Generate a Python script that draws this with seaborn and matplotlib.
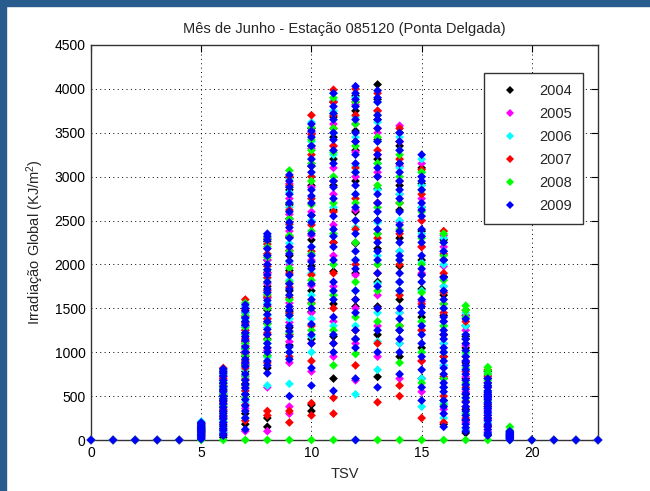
import matplotlib
matplotlib.use("Agg")
import matplotlib.pyplot as plt
import seaborn as sns
import pandas as pd
from matplotlib.patches import Rectangle

# ---- data: per year, list of 24 hourly lists (TSV hour 0..23) ----
years = ["2004", "2005", "2006", "2007", "2008", "2009"]
colors = ["#000000", "#ff00ff", "#00ffff", "#ff0000", "#00ff00", "#0000ff"]

y2004 = [[0], [0], [0], [0], [0],
         [40, 75, 110, 150, 90, 60, 130, 175],
         [30, 180, 320, 450, 560, 640, 720, 380, 250, 510, 600, 90],
         [180, 300, 520, 780, 950, 1120, 1300, 1450, 640, 860, 1040, 1220],
         [150, 250, 820, 1150, 1480, 1750, 2050, 2260, 960, 1330, 1620, 1910],
         [1280, 1700, 2100, 2520, 2850, 1930, 1460, 2310, 2680, 2990, 1080],
         [330, 400, 1150, 1700, 2280, 2900, 3350, 1460, 1980, 2560, 3120, 3550],
         [700, 1550, 2250, 2900, 3450, 3850, 1180, 1920, 2620, 3200, 3680],
         [1150, 1900, 2600, 3300, 3750, 1520, 2240, 2950, 3520, 3920],
         [720, 1200, 1800, 2500, 3200, 3650, 4050, 1520, 2180, 2860, 3420, 3880],
         [950, 1600, 2300, 2900, 3350, 1250, 1980, 2620, 3150, 3500],
         [700, 1400, 2050, 2650, 1050, 1720, 2380, 2920, 3100],
         [180, 700, 1200, 1650, 2050, 450, 950, 1420, 1860, 2280],
         [80, 350, 700, 1050, 1300, 220, 520, 880, 1180, 1420],
         [60, 250, 500, 700, 160, 380, 600, 780],
         [20, 60, 100],
         [0], [0], [0], [0]]
y2005 = [[0], [0], [0], [0], [0],
         [55, 100, 140, 170, 80, 25, 120, 190],
         [120, 260, 410, 530, 690, 770, 340, 470, 610, 720, 200],
         [100, 360, 600, 870, 1010, 1250, 1400, 720, 1130, 1330, 1500],
         [100, 600, 1020, 1380, 1620, 1900, 2180, 1200, 1500, 1780, 2050, 2300],
         [300, 380, 880, 1120, 1560, 2000, 2380, 2750, 1340, 1780, 2200, 2570, 2920],
         [780, 1450, 2050, 2600, 3150, 3500, 1100, 1760, 2330, 2880, 3320],
         [950, 1750, 2450, 3100, 3600, 1350, 2100, 2800, 3350, 3850],
         [680, 1500, 2250, 3000, 3600, 1100, 1880, 2620, 3280, 3820],
         [950, 1650, 2350, 3050, 3500, 1300, 2000, 2700, 3250, 3750],
         [700, 1450, 2150, 2800, 3580, 1100, 1800, 2480, 3120, 3400],
         [550, 1250, 1900, 2500, 3000, 900, 1580, 2200, 2750, 3150],
         [350, 850, 1350, 1750, 2200, 600, 1100, 1550, 1980, 2330],
         [200, 550, 900, 1250, 380, 720, 1080, 1420],
         [100, 350, 600, 230, 480, 720],
         [30, 80],
         [0], [0], [0], [0]]
y2006 = [[0], [0], [0], [0], [0],
         [30, 120, 180, 210, 65, 95, 150],
         [90, 210, 350, 480, 600, 750, 800, 280, 420, 540, 680],
         [250, 430, 700, 900, 1080, 1200, 1380, 1520, 560, 800, 990, 1290, 1450],
         [620, 940, 1280, 1560, 1840, 2120, 2340, 1100, 1420, 1700, 1980, 2240],
         [640, 1000, 1380, 1820, 2240, 2650, 2980, 1200, 1600, 2030, 2450, 2820],
         [1000, 1380, 1900, 2500, 3000, 3400, 3620, 1180, 1650, 2200, 2750, 3200],
         [1300, 2000, 2650, 3250, 3750, 3950, 1650, 2330, 2950, 3500, 3870],
         [520, 1300, 2050, 2800, 3450, 3900, 1700, 2420, 3120, 3680],
         [800, 1450, 2100, 2850, 3400, 3850, 1120, 1780, 2480, 3150, 3620],
         [1100, 1800, 2500, 3100, 3450, 1450, 2150, 2800, 3300],
         [380, 1000, 1700, 2350, 2900, 3200, 700, 1350, 2020, 2650, 3050],
         [250, 600, 1100, 1500, 2000, 2300, 420, 850, 1300, 1750, 2150],
         [120, 450, 800, 1150, 1450, 300, 620, 980, 1300],
         [80, 300, 550, 760, 200, 420, 650],
         [10, 90, 50],
         [0], [0], [0], [0]]
y2007 = [[0], [0], [0], [0], [0],
         [45, 85, 125, 160, 190, 20, 105],
         [60, 150, 280, 420, 510, 620, 700, 790, 820, 350, 460, 570],
         [220, 400, 560, 820, 980, 1160, 1340, 1480, 1600, 690, 900, 1070, 1250, 1410],
         [280, 330, 880, 1220, 1520, 1700, 1980, 2230, 1050, 1380, 1640, 1850, 2120, 2290],
         [200, 330, 950, 1440, 1740, 2160, 2460, 2900, 1200, 1620, 1900, 2320, 2620, 3000],
         [280, 420, 900, 1560, 2150, 2750, 3250, 3700, 1300, 1880, 2450, 3000, 3480],
         [300, 480, 1100, 1900, 2600, 3350, 3700, 3990, 1500, 2250, 2950, 3550, 3850],
         [850, 1600, 2400, 3100, 3700, 4000, 1250, 2000, 2750, 3400, 3850],
         [430, 1100, 1900, 2700, 3300, 3750, 3950, 1500, 2300, 3000, 3550],
         [500, 620, 1300, 2000, 2700, 3200, 3550, 1650, 2350, 2950, 3400],
         [250, 900, 1550, 2200, 2800, 1250, 1880, 2500, 3080],
         [200, 500, 950, 1450, 1900, 2380, 720, 1200, 1680, 2120],
         [250, 600, 950, 1350, 440, 780, 1150, 1480],
         [150, 400, 650, 800, 280, 520, 730],
         [40, 70],
         [0], [0], [0], [0]]
y2008 = [[0], [0], [0], [0], [0],
         [0, 70, 115, 175, 135, 45, 95],
         [0, 140, 300, 390, 470, 580, 660, 740, 230, 520, 620, 800],
         [0, 480, 730, 960, 1100, 1280, 1420, 1560, 620, 850, 1040, 1200, 1350],
         [0, 960, 1320, 1660, 1940, 2200, 2300, 1140, 1500, 1800, 2080],
         [0, 1220, 1600, 1960, 2330, 2700, 3070, 1420, 1800, 2150, 2520, 2880],
         [0, 1250, 1820, 2380, 2950, 3300, 3560, 1550, 2120, 2680, 3150, 3420],
         [0, 850, 1650, 2350, 3000, 3550, 3900, 1250, 2000, 2700, 3280, 3720],
         [0, 980, 1800, 2700, 3350, 3850, 1400, 2250, 3050, 3600],
         [0, 1350, 2000, 2650, 3150, 3700, 1700, 2350, 2900, 3450],
         [0, 880, 1700, 2400, 3000, 1300, 2050, 2700, 3250],
         [0, 650, 1350, 2000, 2600, 3050, 1000, 1680, 2300, 2850],
         [0, 400, 1000, 1550, 2100, 2350, 700, 1300, 1820, 2250],
         [0, 300, 650, 1000, 1400, 1530, 480, 820, 1200, 1480],
         [0, 450, 680, 830, 750, 560, 620, 790],
         [0, 150, 110],
         [0], [0], [0], [0]]
y2009 = [[0], [0], [0], [0], [0],
         [20, 50, 80, 105, 130, 155, 185, 200, 35, 65, 95, 145, 10, 120, 170],
         [50, 110, 200, 240, 330, 370, 440, 500, 550, 610, 680, 730, 780, 810, 160,
          70, 130, 270, 300, 410, 470, 580, 650, 760],
         [330, 460, 590, 680, 750, 840, 920, 1000, 1060, 1140, 1220, 1310, 1390, 1470, 1540,
          120, 250, 390, 520, 630, 880, 1180, 1350, 1500],
         [760, 850, 1000, 1100, 1200, 1350, 1430, 1590, 1680, 1800, 1880, 2000, 2100, 2280, 2350,
          900, 1050, 1260, 1540, 1720, 1940, 2180, 2320],
         [500, 920, 1060, 1180, 1300, 1420, 1520, 1650, 1780, 1880, 2040, 2200, 2300, 2420, 2600,
          2800, 2950, 3020, 1000, 1240, 1480, 1720, 2120, 2480, 2700, 2880],
         [620, 820, 1100, 1320, 1600, 1780, 1950, 2100, 2200, 2350, 2480, 2700, 2850, 3050, 3200,
          3450, 3600, 1200, 1500, 2030, 2560, 2780, 3120, 3350, 3520],
         [560, 1000, 1200, 1400, 1600, 1800, 2050, 2200, 2400, 2550, 2750, 2950, 3150, 3300, 3500,
          3650, 3800, 3950, 1100, 1700, 2320, 2880, 3420, 3720],
         [0, 700, 1050, 1250, 1450, 1700, 1950, 2150, 2350, 2500, 2650, 2900, 3150, 3250, 3500,
          3650, 3800, 3950, 4030, 1150, 1600, 2050, 2800, 3050, 3400, 3880],
         [600, 1000, 1500, 1750, 2050, 2250, 2400, 2600, 2800, 3000, 3250, 3400, 3550, 3700, 3850,
          3900, 3980, 1250, 1900, 2150, 2500, 2700, 3100, 3650],
         [750, 1000, 1250, 1500, 1700, 1900, 2100, 2250, 2450, 2600, 2750, 2950, 3150, 3300, 3500,
          1150, 1380, 1800, 2050, 2380, 2850, 3050, 3400],
         [450, 600, 800, 950, 1100, 1300, 1450, 1600, 1800, 1950, 2100, 2250, 2400, 2550, 2700,
          2850, 3000, 3250, 1200, 1520, 1880, 2320, 2620, 2950],
         [150, 300, 450, 550, 650, 750, 900, 1050, 1150, 1250, 1400, 1600, 1700, 1850, 2150,
          2250, 380, 600, 820, 1000, 1200, 1350, 1500, 2050],
         [100, 180, 280, 380, 480, 580, 680, 750, 850, 950, 1100, 1200, 1380, 140, 230,
          330, 430, 530, 630, 800, 900, 1020, 1150],
         [50, 120, 180, 220, 280, 330, 380, 430, 480, 520, 560, 620, 700, 80, 150,
          250, 310, 360, 410, 460, 500, 540, 600, 650],
         [0, 15, 35, 50, 65, 85, 100, 25, 45, 75],
         [0], [0], [0], [0]]

xticks = [0, 5, 10, 15, 20]
yticks = [0, 500, 1000, 1500, 2000, 2500, 3000, 3500, 4000, 4500]

# ---- build long table ----
rows = []
for yr, series in zip(years, [y2004, y2005, y2006, y2007, y2008, y2009]):
    for hour, vals in enumerate(series):
        for v in vals:
            rows.append({"TSV": hour, "val": v, "Ano": yr})
df = pd.DataFrame(rows)

sns.set_style("white")
plt.rcParams["font.family"] = ["Liberation Sans", "DejaVu Sans"]
plt.rcParams["mathtext.fontset"] = "custom"
plt.rcParams["mathtext.rm"] = "Liberation Sans"
plt.rcParams["mathtext.it"] = "Liberation Sans"

fig = plt.figure(figsize=(6.5, 4.91), dpi=100, facecolor="white")
# blue window frame (top and left)
fig.patches.append(Rectangle((0, 1 - 6 / 491), 1, 6 / 491, transform=fig.transFigure,
                             color="#285c8c", zorder=-1))
fig.patches.append(Rectangle((0, 0), 6 / 650, 1, transform=fig.transFigure,
                             color="#285c8c", zorder=-1))

ax = fig.add_axes([91 / 650, 1 - 440 / 491, (598 - 91) / 650, (440 - 45) / 491])

sns.scatterplot(data=df, x="TSV", y="val", hue="Ano", hue_order=years,
                palette=dict(zip(years, colors)), marker="D", s=20,
                linewidth=0, edgecolor="none", ax=ax, legend=True, zorder=3,
                clip_on=False)

ax.set_xlim(0, 23)
ax.set_ylim(0, 4500)
ax.set_xticks(xticks)
ax.set_yticks(yticks)
ax.tick_params(direction="in", length=5, width=0.8, top=True, right=True,
               labelsize=10, pad=4, colors="black")
for sp in ax.spines.values():
    sp.set_visible(True)
    sp.set_color("#333333")
    sp.set_linewidth(1.0)
ax.grid(True, linestyle=(0, (1, 3.5)), color="black", linewidth=0.7)
ax.set_axisbelow(True)

ax.set_title("Mês de Junho - Estação 085120 (Ponta Delgada)", fontsize=10.5, pad=9)
ax.set_xlabel("TSV", fontsize=10.5, labelpad=5)
ax.set_ylabel("Irradiação Global (KJ/m$^2$)", fontsize=10.5, labelpad=6)

leg = ax.legend(loc="upper right", bbox_to_anchor=(0.970, 0.929), frameon=True,
                fancybox=False, framealpha=1, edgecolor="#333333", fontsize=10.5,
                labelspacing=0.62, handlelength=2.0, handletextpad=1.0,
                borderpad=0.75, borderaxespad=0, markerscale=0.85, title=None)
leg.get_frame().set_linewidth(1.0)

fig.savefig("out.png", dpi=100, facecolor="white")
